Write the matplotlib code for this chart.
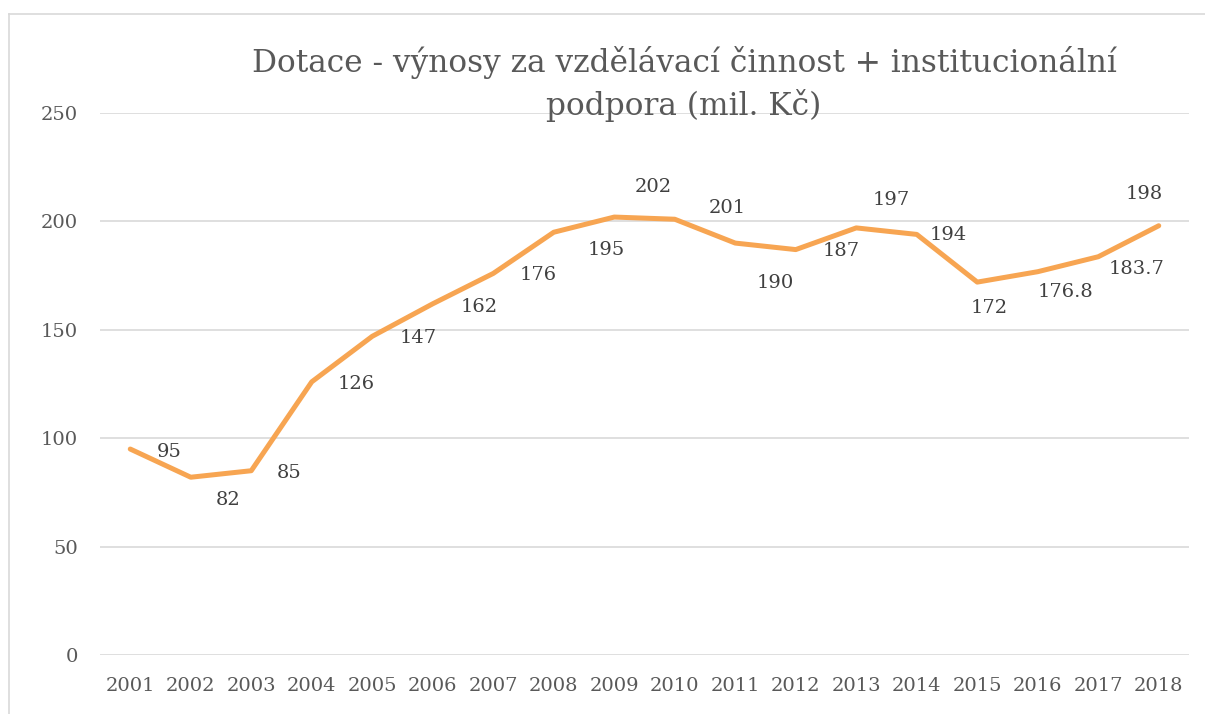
import matplotlib
matplotlib.use('Agg')
import matplotlib.pyplot as plt
from matplotlib.lines import Line2D

# data
years = ['2001', '2002', '2003', '2004', '2005', '2006', '2007', '2008', '2009',
         '2010', '2011', '2012', '2013', '2014', '2015', '2016', '2017', '2018']
values = [95, 82, 85, 126, 147, 162, 176, 195, 202,
          201, 190, 187, 197, 194, 172, 176.8, 183.7, 198]
value_labels = ['95', '82', '85', '126', '147', '162', '176', '195', '202',
                '201', '190', '187', '197', '194', '172', '176.8', '183.7', '198']
title = 'Dotace - výnosy za vzdělávací činnost + institucionální\npodpora (mil. Kč)'

# label offsets (pixels, label centre relative to point)
offsets = [(39, -3), (37, -23), (38, -2), (44, -2), (46, -2), (46, -3),
           (45, -2), (53, -18), (39, 30), (52, 11), (40, -40), (45, -1),
           (35, 28), (32, -1), (12, -26), (28, -20), (38, -12), (-14, 32)]

plt.rcParams['font.family'] = ['DejaVu Serif']

fig = plt.figure(figsize=(12.05, 7.14), dpi=100)
# chart area border (cut off at right and bottom)
bx, by = 8.5 / 1205, 1 - 13.5 / 714
fig.lines.append(Line2D([bx, 1.0], [by, by], transform=fig.transFigure,
                        color='#D9D9D9', lw=1.2))
fig.lines.append(Line2D([bx, bx], [0.0, by], transform=fig.transFigure,
                        color='#D9D9D9', lw=1.2))

ax = fig.add_axes([100 / 1205, 1 - 655 / 714, 1089 / 1205, 542 / 714])
x = list(range(len(years)))
ax.plot(x, values, color='#F7A552', lw=3.6, solid_capstyle='round', zorder=3)

for xi, v, lab, (dx, dy) in zip(x, values, value_labels, offsets):
    ax.annotate(lab, (xi, v), xytext=(dx, dy), textcoords='offset pixels',
                ha='center', va='center', fontsize=14, color='#404040')

ax.set_xlim(-0.5, len(years) - 0.5)
ax.set_ylim(0, 250)
ax.set_yticks(range(0, 251, 50))
ax.set_xticks(x)
ax.set_xticklabels(years)
ax.grid(axis='y', color='#D9D9D9', lw=1.2)
ax.set_axisbelow(True)
for s in ax.spines.values():
    s.set_visible(False)
ax.tick_params(length=0, labelsize=14, colors='#595959')
ax.tick_params(axis='x', pad=16)
ax.tick_params(axis='y', pad=16)

fig.text(684 / 1205, 1 - 84 / 714, title, ha='center', va='center',
         fontsize=22.5, color='#595959', linespacing=1.35)

fig.savefig('out.png', dpi=100)
